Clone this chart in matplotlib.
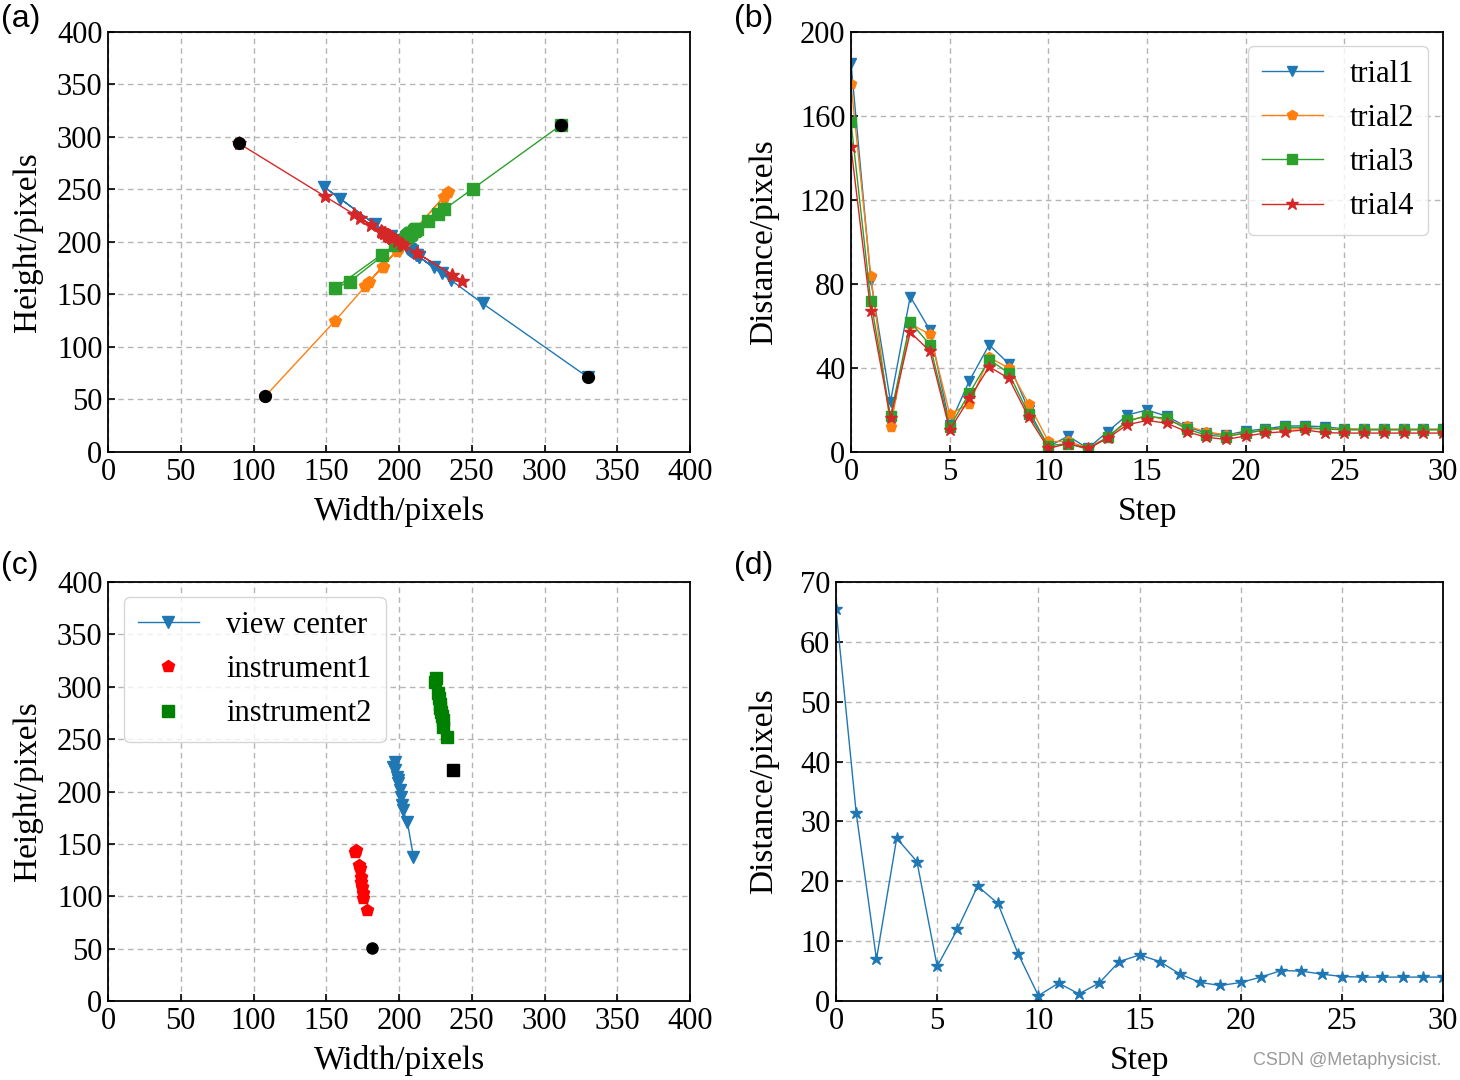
import matplotlib
matplotlib.use('Agg')
import matplotlib.pyplot as plt

plt.rcParams['font.family'] = ['Liberation Serif', 'DejaVu Serif']

# ---- (a) trajectories of the view centre, one list per trial ----
trial1_x = [330, 257.4, 183.2, 148.2, 159.4, 209.1, 223.8, 235.7, 229.4, 214.0,
            198.3, 194.7, 201.2, 206.8, 212.3, 214.0, 211.9, 208.4, 206.3, 205.6,
            207.0, 207.7, 208.7, 208.7, 208.4, 207.7, 207.6, 207.6, 207.6, 207.6, 207.6]
trial1_y = [71, 141.5, 217.1, 252.8, 241.4, 190.7, 175.7, 163.6, 170.0, 185.7,
            201.8, 205.4, 198.8, 193.1, 187.4, 185.7, 187.9, 191.4, 193.6, 194.3,
            192.9, 192.1, 191.1, 191.1, 191.4, 192.1, 192.3, 192.3, 192.3, 192.3, 192.3]

trial2_x = [108, 156.1, 207.4, 233.6, 231.0, 210.6, 188.7, 176.9, 179.6, 188.7,
            198.3, 203.7, 199.9, 204.7, 208.7, 210.4, 209.0, 207.6, 206.2, 205.3,
            205.8, 206.6, 206.9, 206.9, 206.9, 206.9, 206.8, 206.8, 206.8, 206.8, 206.8]
trial2_y = [53, 125.0, 206.1, 247.5, 243.3, 211.2, 176.6, 158.0, 162.2, 176.6,
            191.8, 200.2, 194.3, 201.9, 208.2, 210.9, 208.7, 206.5, 204.2, 202.8,
            203.6, 204.9, 205.3, 205.3, 205.3, 205.3, 205.1, 205.1, 205.1, 205.1, 205.1]

trial3_x = [311, 250.9, 188.0, 156.2, 166.0, 208.5, 219.8, 231.1, 226.5, 212.7,
            197.9, 197.2, 200.9, 204.9, 210.6, 212.0, 211.3, 207.8, 205.7, 205.2,
            206.4, 207.4, 208.3, 208.3, 207.8, 207.4, 207.4, 207.4, 207.4, 207.4, 207.4]
trial3_y = [311, 250.9, 188.0, 156.2, 162.0, 208.5, 219.8, 231.1, 226.5, 212.7,
            197.9, 197.2, 200.9, 204.9, 210.6, 212.0, 211.3, 207.8, 205.7, 205.2,
            206.4, 207.4, 208.3, 208.3, 207.8, 207.4, 207.4, 207.4, 207.4, 207.4, 207.4]

trial4_x = [89.7, 149.0, 212.2, 243.4, 236.5, 192.0, 180.6, 169.1, 173.4, 187.4,
            201.3, 203.0, 198.7, 195.1, 190.1, 188.6, 189.6, 192.6, 194.7, 195.4,
            194.2, 193.2, 192.6, 192.0, 193.0, 193.2, 193.2, 193.2, 193.2, 193.2, 193.2]
trial4_y = [294.1, 243.5, 189.6, 163.0, 168.8, 206.8, 216.5, 226.3, 222.7, 210.7,
            198.9, 197.4, 201.1, 204.2, 208.4, 209.7, 208.9, 206.3, 204.5, 203.9,
            204.9, 205.8, 206.3, 206.8, 206.0, 205.8, 205.8, 205.8, 205.8, 205.8, 205.8]

# ---- (b) distance to target per step ----
steps = list(range(31))
dist1 = [185, 82, 24, 74, 58, 13, 34, 51, 42, 20, 2.5, 7.6, 1.7, 9.7, 17.6, 20,
         17, 12, 9, 8, 10, 11, 12.4, 12.4, 12, 11, 10.8, 10.8, 10.8, 10.8, 10.8]
dist2 = [175, 84, 12, 61, 56, 18, 23, 45, 40, 23, 5, 5, 2, 7, 14.4, 17.6,
         15, 12.4, 9.7, 8, 9, 10.5, 11, 11, 11, 11, 10.8, 10.8, 10.8, 10.8, 10.8]
dist3 = [157, 72, 17, 62, 51, 12, 28, 44, 37.5, 18, 3, 4, 1.3, 7, 15, 17,
         16, 11, 8, 7.3, 9, 10.5, 11.7, 11.7, 11, 10.5, 10.5, 10.5, 10.5, 10.5, 10.5]
dist4 = [145, 67, 16, 57, 48, 10.5, 25.5, 40.6, 35, 16.5, 1.7, 4, 1.7, 6.5, 13, 15,
         13.7, 9.7, 7, 6, 7.6, 9, 9.7, 10.5, 9.2, 9, 9, 9, 9, 9, 9]

# ---- (c) view centre and two instruments ----
view_x = [209.9, 205.7, 202.5, 201.8, 201.2, 200.7, 199.5, 199.0, 198.5, 197.0, 196.1, 197.3]
view_y = [137.8, 171.2, 182.3, 187.0, 195.0, 201.4, 207.8, 211.0, 214.0, 221.0, 223.7, 228.4]
inst1_x = [169.8, 170.6, 172.5, 173.2, 173.7, 174.0, 174.4, 175.0, 175.5, 177.8]
inst1_y = [142.5, 144.5, 130.0, 126.7, 118.7, 114.0, 109.0, 102.8, 98.0, 86.9]
inst2_x = [225.4, 225.0, 227.0, 227.5, 228.0, 228.5, 229.0, 229.5, 230.0, 230.5, 233.2]
inst2_y = [308.0, 305.0, 293.7, 289.0, 284.0, 280.0, 276.0, 272.0, 268.0, 262.0, 251.7]
inst1_start = (181.6, 51.0)
inst2_start = (237.3, 220.5)

# ---- (d) view centre distance per step ----
dist_view = [65.5, 31.4, 7.0, 27.2, 23.3, 5.8, 12.0, 19.2, 16.3, 7.9, 0.9, 3.0, 1.2,
             3.0, 6.6, 7.7, 6.6, 4.5, 3.1, 2.6, 3.1, 4.0, 5.1, 5.0, 4.5, 4.1,
             4.0, 4.0, 4.0, 4.0, 4.0]

TICK_FS = 22
LABEL_FS = 24
C = ['#1f77b4', '#ff7f0e', '#2ca02c', '#d62728']


def style_axes(ax):
    ax.grid(True, linestyle=(0, (4, 3)), color='#b5b5b5', linewidth=1.0)
    ax.set_axisbelow(True)
    ax.tick_params(direction='in', labelsize=TICK_FS, length=5, width=1.2, pad=4)
    for s in ax.spines.values():
        s.set_linewidth(1.3)


fig = plt.figure(figsize=(14.6, 10.8), dpi=100)
ax_a = fig.add_axes([0.0740, 0.5815, 0.3986, 0.3889])
ax_b = fig.add_axes([0.5829, 0.5815, 0.4055, 0.3889])
ax_c = fig.add_axes([0.0740, 0.0731, 0.3986, 0.3880])
ax_d = fig.add_axes([0.5726, 0.0731, 0.4158, 0.3880])

# (a)
trials_xy = [(trial1_x, trial1_y, 'v'), (trial2_x, trial2_y, 'p'),
             (trial3_x, trial3_y, 's'), (trial4_x, trial4_y, '*')]
for i, (tx, ty, m) in enumerate(trials_xy):
    ms = 10 if m == '*' else 8.5
    ax_a.plot(tx, ty, color=C[i], marker=m, ms=ms, lw=1.0)
for i, (tx, ty, m) in enumerate(trials_xy):
    ax_a.plot(tx[0], ty[0], 'o', color='black', ms=8.5)
ax_a.set_xlim(0, 400)
ax_a.set_ylim(0, 400)
ax_a.set_xticks(range(0, 401, 50))
ax_a.set_yticks(range(0, 401, 50))
ax_a.set_xlabel('Width/pixels', fontsize=LABEL_FS, labelpad=7)
ax_a.set_ylabel('Height/pixels', fontsize=LABEL_FS, labelpad=10)
style_axes(ax_a)

# (b)
dists = [dist1, dist2, dist3, dist4]
marks = ['v', 'p', 's', '*']
for i, d in enumerate(dists):
    ms = 9 if marks[i] == '*' else 7.5
    ax_b.plot(steps, d, color=C[i], marker=marks[i], ms=ms, lw=1.0,
              label='trial%d' % (i + 1))
ax_b.set_xlim(0, 30)
ax_b.set_ylim(0, 200)
ax_b.set_xticks(range(0, 31, 5))
ax_b.set_yticks(range(0, 201, 40))
ax_b.set_xlabel('Step', fontsize=LABEL_FS, labelpad=7)
ax_b.set_ylabel('Distance/pixels', fontsize=LABEL_FS, labelpad=15)
style_axes(ax_b)
ax_b.legend(loc='upper right', fontsize=TICK_FS, handlelength=2.0,
            handletextpad=0.9, borderpad=0.45, labelspacing=0.5,
            bbox_to_anchor=(0.975, 0.967), borderaxespad=0)

# (c)
ax_c.plot(view_x, view_y, color=C[0], marker='v', ms=9, lw=1.0, label='view center')
ax_c.plot(inst1_x, inst1_y, 'p', color='red', ms=9, label='instrument1')
ax_c.plot(inst2_x, inst2_y, 's', color='green', ms=8, label='instrument2')
ax_c.plot(*inst1_start, 'o', color='black', ms=8)
ax_c.plot(*inst2_start, 's', color='black', ms=8)
ax_c.set_xlim(0, 400)
ax_c.set_ylim(0, 400)
ax_c.set_xticks(range(0, 401, 50))
ax_c.set_yticks(range(0, 401, 50))
ax_c.set_xlabel('Width/pixels', fontsize=LABEL_FS, labelpad=7)
ax_c.set_ylabel('Height/pixels', fontsize=LABEL_FS, labelpad=10)
style_axes(ax_c)
ax_c.legend(loc='upper left', fontsize=TICK_FS, handlelength=2.0,
            handletextpad=0.9, borderpad=0.45, labelspacing=0.5,
            bbox_to_anchor=(0.0275, 0.964), borderaxespad=0)

# (d)
ax_d.plot(steps, dist_view, color=C[0], marker='*', ms=9, lw=1.0)
ax_d.set_xlim(0, 30)
ax_d.set_ylim(0, 70)
ax_d.set_xticks(range(0, 31, 5))
ax_d.set_yticks(range(0, 71, 10))
ax_d.set_xlabel('Step', fontsize=LABEL_FS, labelpad=7)
ax_d.set_ylabel('Distance/pixels', fontsize=LABEL_FS, labelpad=15)
style_axes(ax_d)

for lbl, x, y in [('(a)', 0.001, 0.982), ('(b)', 0.503, 0.982),
                  ('(c)', 0.001, 0.476), ('(d)', 0.503, 0.476)]:
    fig.text(x, y, lbl, fontsize=23, family='Liberation Sans', va='center', ha='left')

fig.text(0.987, 0.018, 'CSDN @Metaphysicist.', fontsize=13, family='Liberation Sans',
         color='#9a9a9a', ha='right', va='center')

fig.savefig('out.png', dpi=100)
